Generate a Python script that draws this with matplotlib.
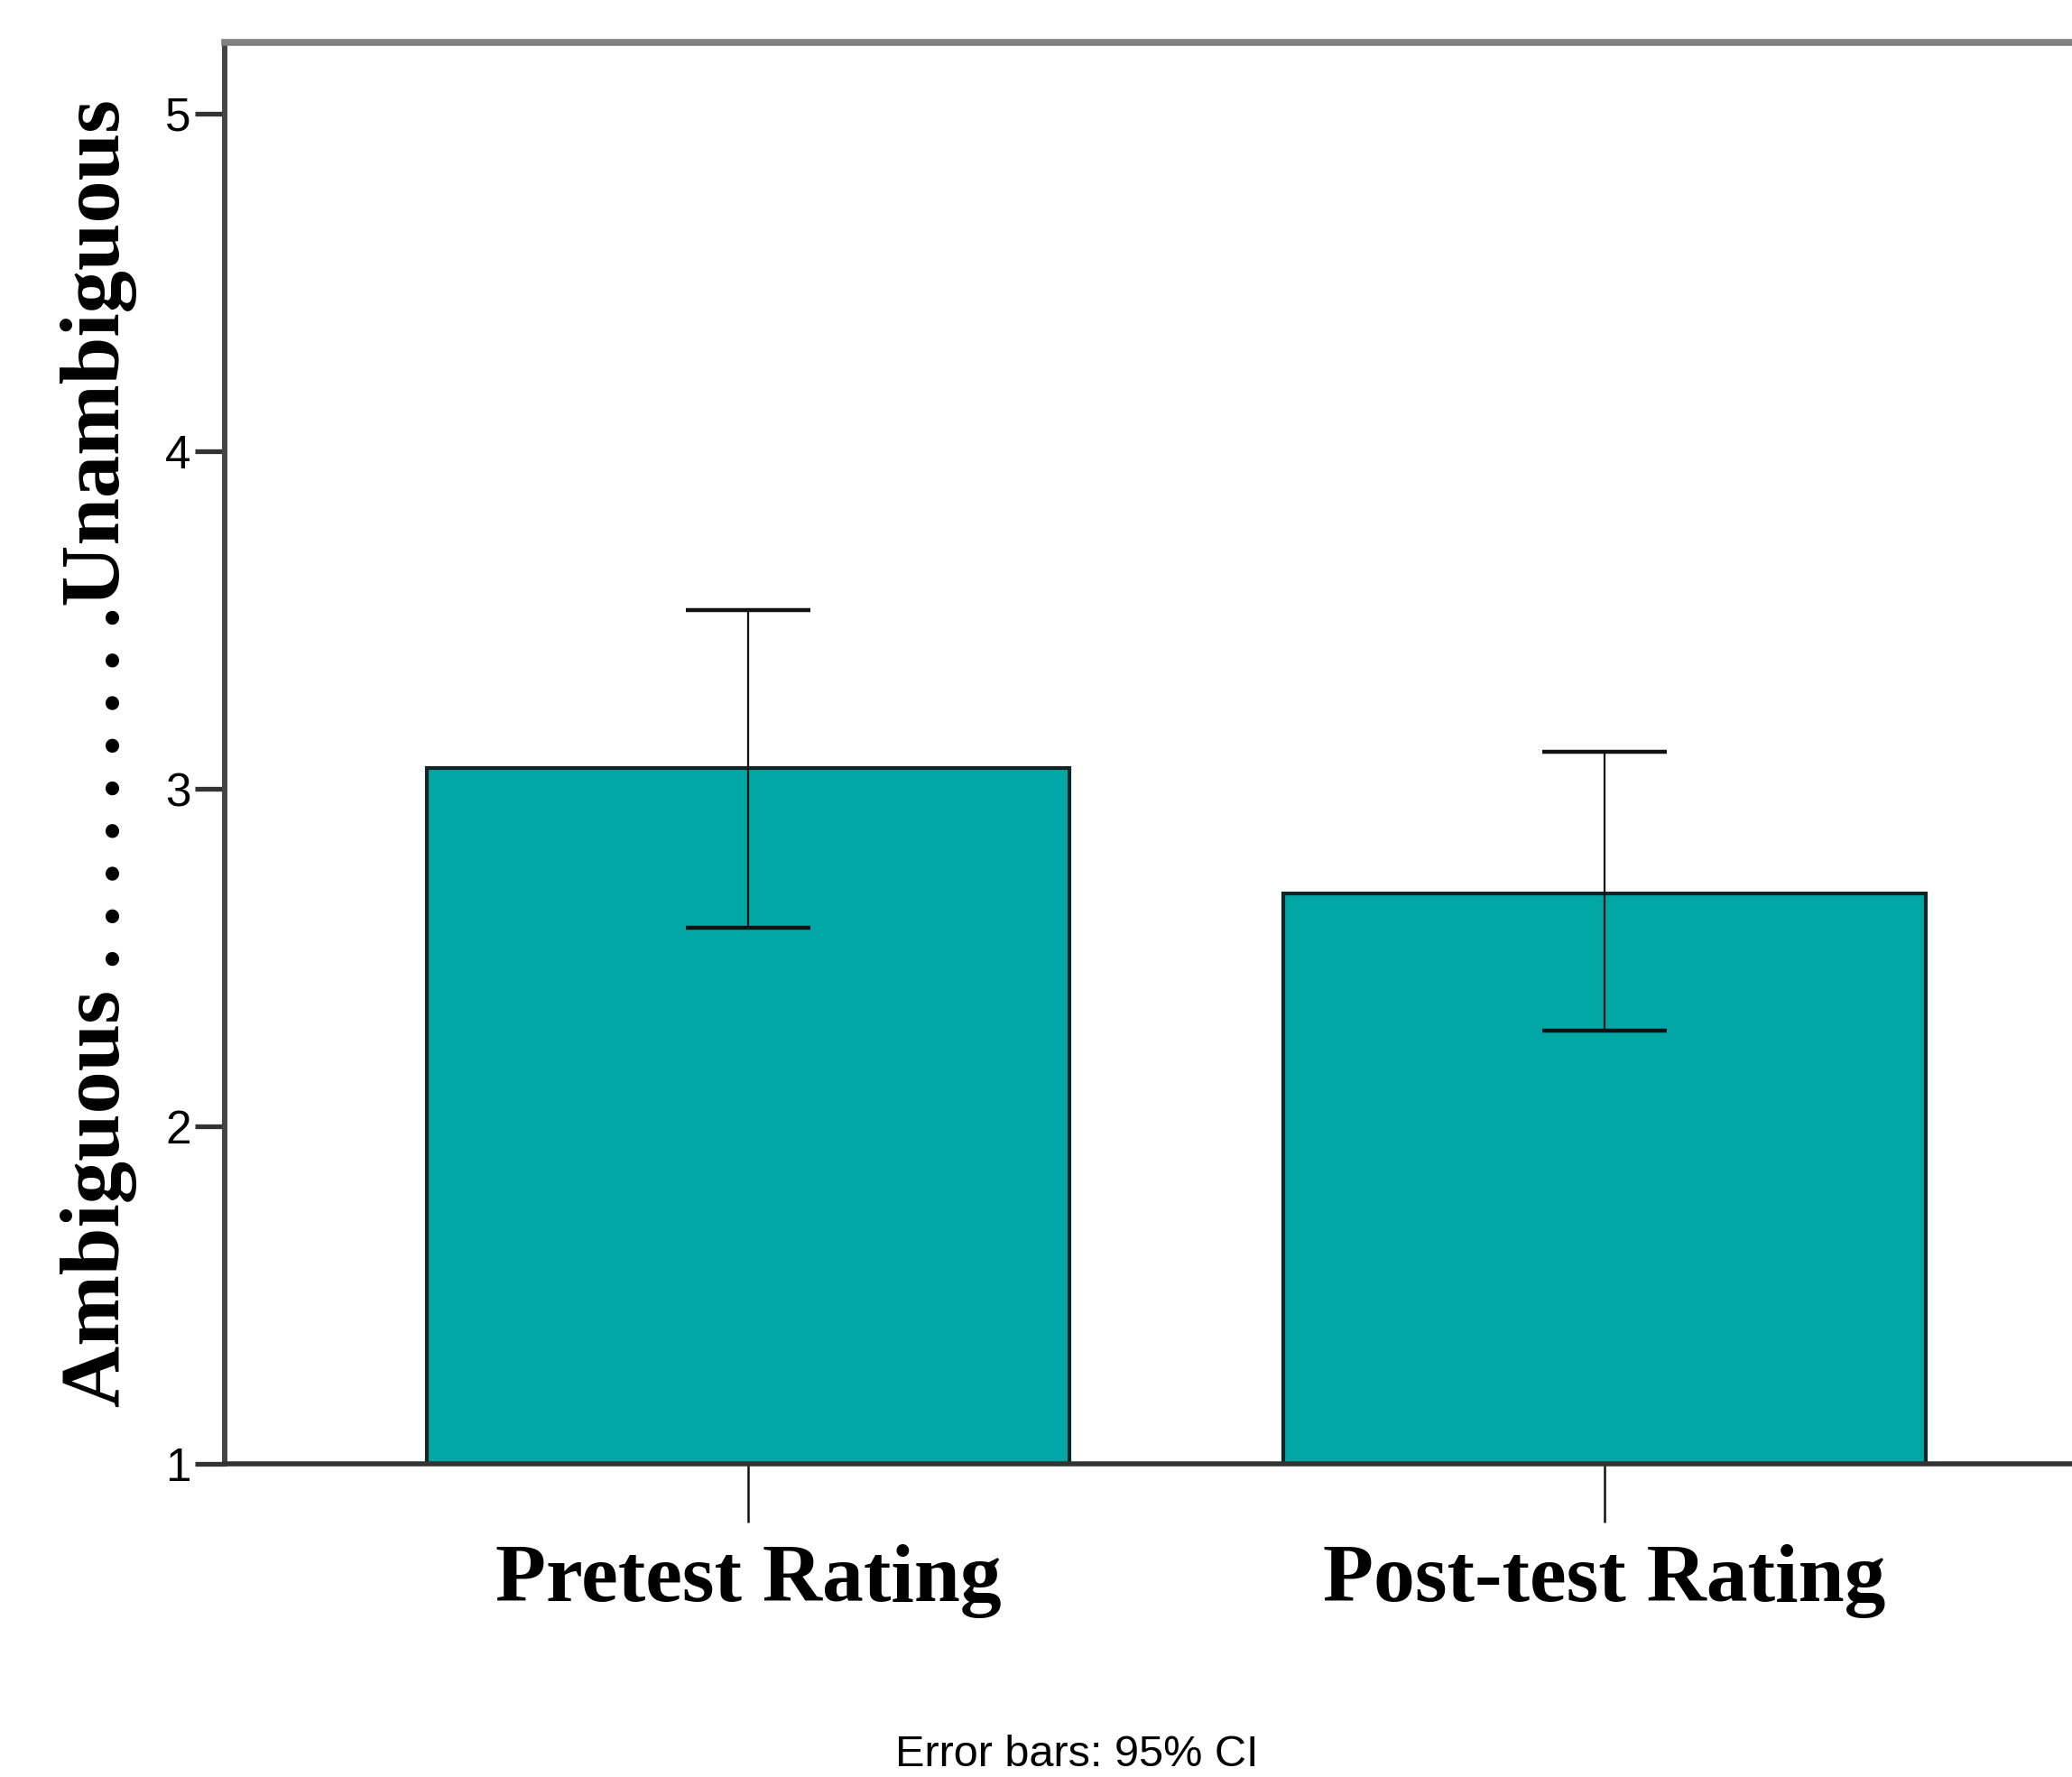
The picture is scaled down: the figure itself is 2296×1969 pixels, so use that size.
import matplotlib
matplotlib.use("Agg")
import matplotlib.pyplot as plt

# data
categories = ["Pretest Rating", "Post-test Rating"]
means = [3.063, 2.691]
ci_low = [2.589, 2.284]
ci_high = [3.529, 3.110]
y_ticks = [1, 2, 3, 4, 5]
y_label = "Ambiguous . . . . . . . . .Unambiguous"
footnote = "Error bars: 95% CI"

serif_bold = dict(family=["Liberation Serif", "DejaVu Serif"], weight="bold")
sans = ["Liberation Sans", "DejaVu Sans"]

fig = plt.figure(figsize=(22.96, 19.69), dpi=100)
ax = fig.add_axes([0.1085, 0.176, 0.8915, 0.8002])

x = list(range(len(categories)))
heights = [m - 1 for m in means]
ax.bar(x, heights, bottom=1, width=0.75, color="#00a7a5",
       edgecolor="#142424", linewidth=3, zorder=2)

err_lo = [m - lo for m, lo in zip(means, ci_low)]
err_hi = [hi - m for m, hi in zip(means, ci_high)]
ax.errorbar(x, means, yerr=[err_lo, err_hi], fmt="none", ecolor="#111111",
            elinewidth=1.6, capsize=50, capthick=3.2, zorder=3)

ax.set_xlim(-0.611, 1.546)
ax.set_ylim(1, 5.211)

# spines
ax.spines["right"].set_visible(False)
ax.spines["top"].set_color("#808080")
ax.spines["top"].set_linewidth(5.5)
ax.spines["left"].set_color("#454545")
ax.spines["left"].set_linewidth(4.3)
ax.spines["bottom"].set_color("#333333")
ax.spines["bottom"].set_linewidth(4.0)
ax.spines["bottom"].set_zorder(4)

ax.set_yticks(y_ticks)
ax.set_yticklabels([str(t) for t in y_ticks], family=sans, fontsize=37)
ax.tick_params(axis="y", direction="out", length=24, width=3.8,
               color="#333333", pad=3)

ax.set_xticks(x)
ax.set_xticklabels(categories, fontsize=66, **serif_bold)
ax.tick_params(axis="x", direction="out", length=47, width=1.8,
               color="#111111", pad=17)

ax.set_ylabel(y_label, fontsize=68, labelpad=22, **serif_bold)

fig.text(0.5196, 0.006, footnote, ha="center", va="baseline",
         family=sans, fontsize=35)

fig.savefig("out.png", dpi=100)
plt.close(fig)
